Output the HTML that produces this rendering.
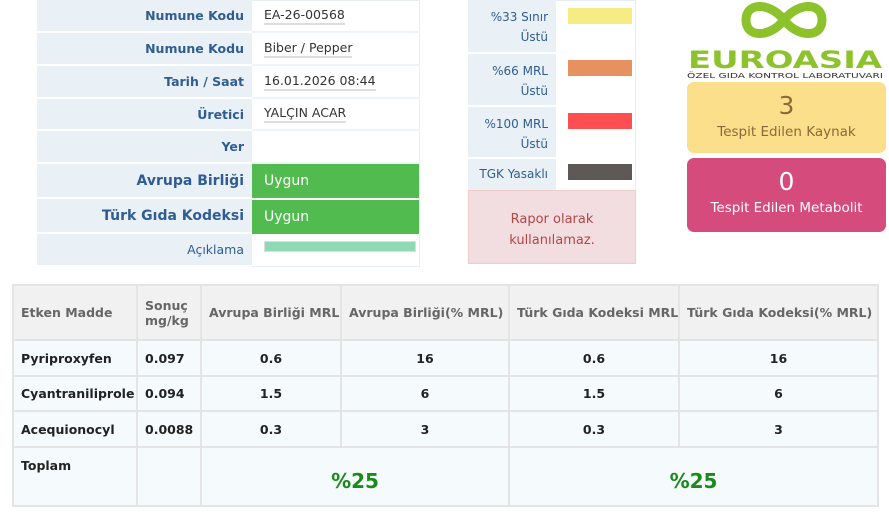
<!DOCTYPE html>
<html><head><meta charset="utf-8"><style>
*{box-sizing:border-box;margin:0;padding:0}
body{width:889px;height:526px;background:#fff;font-family:"DejaVu Sans","Liberation Sans",sans-serif;position:relative;overflow:hidden}
.a{position:absolute}
.lab{background:#eaf1f6;color:#2f5d93;font-weight:bold;font-size:12.5px;text-align:right;padding-right:8px;display:flex;align-items:center;justify-content:flex-end;border-bottom:2px solid #fff}
.val{color:#333;font-size:12.5px;display:flex;align-items:center;padding-left:12px;border-bottom:2px solid #eef3f7}
.val span{border-bottom:2px solid #ddd;line-height:16px}
table{border-collapse:collapse;font-size:12.5px;table-layout:fixed}
td{border:2px solid #e4e4e4;padding:0 7px;color:#222;font-weight:bold;white-space:nowrap;overflow:hidden}
</style></head><body>
<div class="a" style="left:37px;top:0;width:383px;height:267px;border:1px solid #e6eef5"></div>
<div class="a lab" style="left:37px;top:0;width:215px;height:33px">Numune Kodu</div>
<div class="a val" style="left:252px;top:0;width:168px;height:33px"><span>EA-26-00568</span></div>
<div class="a lab" style="left:37px;top:33px;width:215px;height:33px">Numune Kodu</div>
<div class="a val" style="left:252px;top:33px;width:168px;height:33px"><span>Biber / Pepper</span></div>
<div class="a lab" style="left:37px;top:66px;width:215px;height:33px">Tarih / Saat</div>
<div class="a val" style="left:252px;top:66px;width:168px;height:33px"><span>16.01.2026 08:44</span></div>
<div class="a lab" style="left:37px;top:99px;width:215px;height:32px">Üretici</div>
<div class="a val" style="left:252px;top:99px;width:168px;height:32px"><span>YALÇIN ACAR</span></div>
<div class="a lab" style="left:37px;top:131px;width:215px;height:33px">Yer</div>
<div class="a val" style="left:252px;top:131px;width:168px;height:33px"></div>
<div class="a lab" style="left:37px;top:164px;width:215px;height:35px;font-size:14px">Avrupa Birliği</div>
<div class="a" style="left:252px;top:164px;width:167px;height:34px;background:#52bb4f;color:#fff;font-size:14px;padding-left:12px;line-height:34px">Uygun</div>
<div class="a lab" style="left:37px;top:199px;width:215px;height:35px;font-size:14px">Türk Gıda Kodeksi</div>
<div class="a" style="left:252px;top:200px;width:167px;height:34px;background:#52bb4f;color:#fff;font-size:14px;padding-left:12px;line-height:34px">Uygun</div>
<div class="a lab" style="left:37px;top:234px;width:215px;height:33px;font-weight:normal">Açıklama</div>
<div class="a" style="left:264px;top:241px;width:152px;height:11px;background:#8fdab5;border:1px solid #ddd"></div>

<div class="a" style="left:468px;top:0;width:168px;height:264px;border:1px solid #e6eef5"></div>
<div class="a" style="left:468px;top:0;width:88px;height:190px;background:#eaf1f6"></div>
<div class="a" style="left:468px;top:0;width:88px;height:52px;color:#2f5d93;font-size:12px;text-align:right;padding:7px 8px 0 0;line-height:20px">%33 Sınır<br>Üstü</div>
<div class="a" style="left:468px;top:52px;width:88px;height:53px;color:#2f5d93;font-size:12px;text-align:right;padding:7px 8px 0 0;line-height:20px;border-top:2px solid #fff">%66 MRL<br>Üstü</div>
<div class="a" style="left:468px;top:105px;width:88px;height:52px;color:#2f5d93;font-size:12px;text-align:right;padding:7px 8px 0 0;line-height:20px;border-top:2px solid #fff">%100 MRL<br>Üstü</div>
<div class="a" style="left:468px;top:157px;width:88px;height:33px;color:#2f5d93;font-size:12px;text-align:right;padding-right:8px;line-height:30px;border-top:2px solid #fff">TGK Yasaklı</div>
<div class="a" style="left:568px;top:8px;width:64px;height:16px;background:#f6ec84"></div>
<div class="a" style="left:568px;top:60px;width:64px;height:16px;background:#e79160"></div>
<div class="a" style="left:568px;top:113px;width:64px;height:16px;background:#fd4f51"></div>
<div class="a" style="left:568px;top:164px;width:64px;height:16px;background:#5e5857"></div>
<div class="a" style="left:468px;top:190px;width:168px;height:74px;background:#f2dde0;border:1px solid #ecc;color:#b34747;font-size:13px;text-align:center;padding-top:18px;line-height:21px">Rapor olarak<br>kullanılamaz.</div>

<svg class="a" style="left:686px;top:0" width="200" height="80" viewBox="0 0 200 80">
<path d="M98 20 C84 2 60 2 60 20 C60 38 84 38 98 20 C112 2 136 2 136 20 C136 38 112 38 98 20" fill="none" stroke="#8cc22b" stroke-width="9"/>
<text x="99" y="68" text-anchor="middle" font-family="DejaVu Sans" font-weight="bold" font-size="24" fill="#8cc22b" textLength="194" lengthAdjust="spacingAndGlyphs">EUROASIA</text>
<text x="99" y="78" text-anchor="middle" font-family="DejaVu Sans" font-size="7" fill="#333" textLength="196" lengthAdjust="spacingAndGlyphs">ÖZEL GIDA KONTROL LABORATUVARI</text>
</svg>
<div class="a" style="left:687px;top:82px;width:199px;height:71px;background:#fbdf8a;border-radius:7px;text-align:center;color:#8a6a3a">
<div style="font-size:25px;margin-top:9px">3</div><div style="font-size:13.5px;margin-top:4px">Tespit Edilen Kaynak</div></div>
<div class="a" style="left:687px;top:158px;width:199px;height:74px;background:#d54b7b;border-radius:7px;text-align:center;color:#fff">
<div style="font-size:25px;margin-top:9px">0</div><div style="font-size:13.5px;margin-top:4px">Tespit Edilen Metabolit</div></div>

<table class="a" style="left:12px;top:284px;width:865px">
<colgroup><col style="width:124px"><col style="width:64px"><col style="width:140px"><col style="width:168px"><col style="width:170px"><col style="width:199px"></colgroup>
<tr style="height:55px;background:#f1f1f1"><td style="color:#666">Etken Madde</td><td style="color:#666">Sonuç<br>mg/kg</td><td style="color:#666">Avrupa Birliği MRL</td><td style="color:#666">Avrupa Birliği(% MRL)</td><td style="color:#666">Türk Gıda Kodeksi MRL</td><td style="color:#666">Türk Gıda Kodeksi(% MRL)</td></tr>
<tr style="height:36px;background:#f5fafd"><td>Pyriproxyfen</td><td>0.097</td><td align="center">0.6</td><td align="center">16</td><td align="center">0.6</td><td align="center">16</td></tr>
<tr style="height:35px;background:#f5fafd"><td>Cyantraniliprole</td><td>0.094</td><td align="center">1.5</td><td align="center">6</td><td align="center">1.5</td><td align="center">6</td></tr>
<tr style="height:36px;background:#f5fafd"><td>Acequionocyl</td><td>0.0088</td><td align="center">0.3</td><td align="center">3</td><td align="center">0.3</td><td align="center">3</td></tr>
<tr style="height:59px;background:#f5fafd"><td style="vertical-align:top;padding-top:10px">Toplam</td><td></td><td colspan="2" align="center" style="color:#1a8a1a;font-size:20px;padding-top:8px">%25</td><td colspan="2" align="center" style="color:#1a8a1a;font-size:20px;padding-top:8px">%25</td></tr>
</table>
</body></html>
